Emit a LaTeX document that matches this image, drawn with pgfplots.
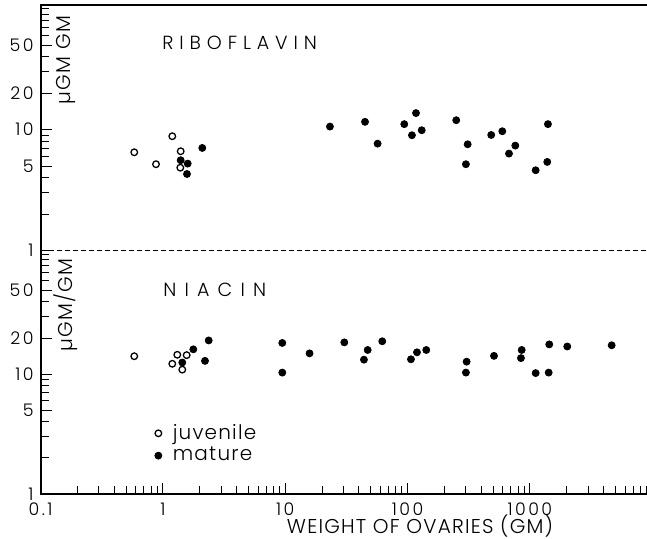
\documentclass[border=0pt]{standalone}
\usepackage{fontspec}
\setmainfont{Poppins}[UprightFont={* Light}, LetterSpace=6]
\usepackage{pgfplots}
\usepackage{pgfplotstable}
\pgfplotsset{compat=1.18}

\pgfplotstableread{
x y
0.583 6.50
0.878 5.18
1.193 8.82
1.397 6.63
1.387 4.85
}\ribjuv
\pgfplotstableread{
x y
1.397 5.59
1.594 5.24
1.573 4.30
2.098 7.06
23.2 10.6
44.9 11.6
56.9 7.66
94.0 11.1
117.2 13.7
108.6 8.99
130.5 9.89
250 11.96
310 7.57
300 5.18
483 9.04
595 9.70
760 7.38
675 6.34
1115 4.62
1387 5.41
1405 11.1
}\ribmat
\pgfplotstableread{
x y
0.583 14.1
1.311 14.5
1.564 14.4
1.193 12.2
1.44 10.9
}\niajuv
\pgfplotstableread{
x y
1.44 12.5
1.772 16.1
2.367 19.1
2.208 12.9
9.46 18.2
9.46 10.3
15.8 14.9
30.4 18.4
47.2 15.9
44.0 13.2
62.1 18.8
106.6 13.3
119.4 15.2
142.2 15.9
304 12.7
300 10.3
509 14.2
857 15.9
845 13.6
1440 17.7
1115 10.2
1424 10.3
2021 17.0
4662 17.4
}\niamat

\pgfplotsset{
 myjuv/.style={only marks, mark=o, mark size=1.65pt, mark options={line width=0.65pt, black}},
 mymat/.style={only marks, mark=*, mark size=1.75pt, mark options={black, fill=black}},
}

\begin{document}
\begin{tikzpicture}
\path[use as bounding box] (-20.3pt,-22pt) rectangle (303.2pt,247pt);
% bottom panel: niacin
\begin{axis}[
  xmode=log, ymode=log, scale only axis, width=303pt, height=121.65pt,
  at={(0pt,0pt)}, anchor=south west,
  xmin=0.1, xmax=9000, ymin=1, ymax=107,
  axis line style={draw=none},
  tick align=inside, ytick pos=left, xtick pos=bottom,
  ytick={5,20,50}, yticklabels={5,20,50},
  extra y ticks={1,10}, extra y tick labels={1,10},
  minor ytick={2,3,4,6,7,8,9,30,40,60,70,80,90,100},
  major tick length=5.5pt, minor tick length=4pt,
  tick style={black, line width=0.5pt},
  tick label style={font=\fontsize{8.7}{9}\selectfont\addfontfeature{LetterSpace=14}},
  xticklabel style={yshift=-1pt},
  clip=false,
  xtick={0.1,1,10,100,1000}, xticklabels={0.1,1,10,100,1000},
  minor xtick={0.2,0.3,0.4,0.5,0.6,0.7,0.8,0.9,2,3,4,5,6,7,8,9,20,30,40,50,60,70,80,90,200,300,400,500,600,700,800,900,2000,3000,4000,5000,6000,7000,8000,9000},
  legend style={draw=none, fill=none, at={(0.178,0.205)}, anchor=west,
    font=\fontsize{10}{11}\selectfont, row sep=-1.5pt, column sep=3.5pt},
  legend cell align=left,
]
\addplot[myjuv] table {\niajuv};
\addlegendentry{juvenile}
\addplot[mymat] table {\niamat};
\addlegendentry{mature}
\draw[line width=1pt] (rel axis cs:0,1) -- (rel axis cs:0,0) -- (rel axis cs:1,0);
\draw[line width=0.45pt, dash pattern=on 2.5pt off 1.5pt] (rel axis cs:0,1) -- (rel axis cs:1,1);
\end{axis}
% top panel: riboflavin
\begin{axis}[
  xmode=log, ymode=log, scale only axis, width=303pt, height=122.85pt,
  at={(0pt,121.65pt)}, anchor=south west,
  xmin=0.1, xmax=9000, ymin=1, ymax=107,
  axis line style={draw=none},
  tick align=inside, ytick pos=left,
  ytick={5,20,50}, yticklabels={5,20,50},
  extra y ticks={1,10}, extra y tick labels={1,10},
  minor ytick={2,3,4,6,7,8,9,30,40,60,70,80,90,100},
  major tick length=5.5pt, minor tick length=4pt,
  tick style={black, line width=0.5pt},
  tick label style={font=\fontsize{8.7}{9}\selectfont\addfontfeature{LetterSpace=14}},
  clip=false,
  xtick=\empty, minor xtick={},
]
\addplot[myjuv] table {\ribjuv};
\addplot[mymat] table {\ribmat};
\draw[line width=1pt] (rel axis cs:0,0) -- (rel axis cs:0,1) -- (rel axis cs:1,1);
\end{axis}
\node[anchor=west, inner sep=0pt, font=\fontsize{9.5}{10}\selectfont\addfontfeature{LetterSpace=31}] at (60.7pt,225.5pt) {RIBOFLAVIN};
\node[anchor=west, inner sep=0pt, font=\fontsize{9.5}{10}\selectfont\addfontfeature{LetterSpace=43}] at (61.2pt,102pt) {NIACIN};
\node[rotate=90, font=\fontsize{10}{11}\selectfont] at (12.5pt,217pt) {µGM GM};
\node[rotate=90, font=\fontsize{10}{11}\selectfont] at (12.5pt,94.5pt) {µGM/GM};
\node[font=\fontsize{10}{11}\selectfont] at (189.7pt,-15.8pt) {WEIGHT OF OVARIES (GM)};
\end{tikzpicture}
\end{document}
